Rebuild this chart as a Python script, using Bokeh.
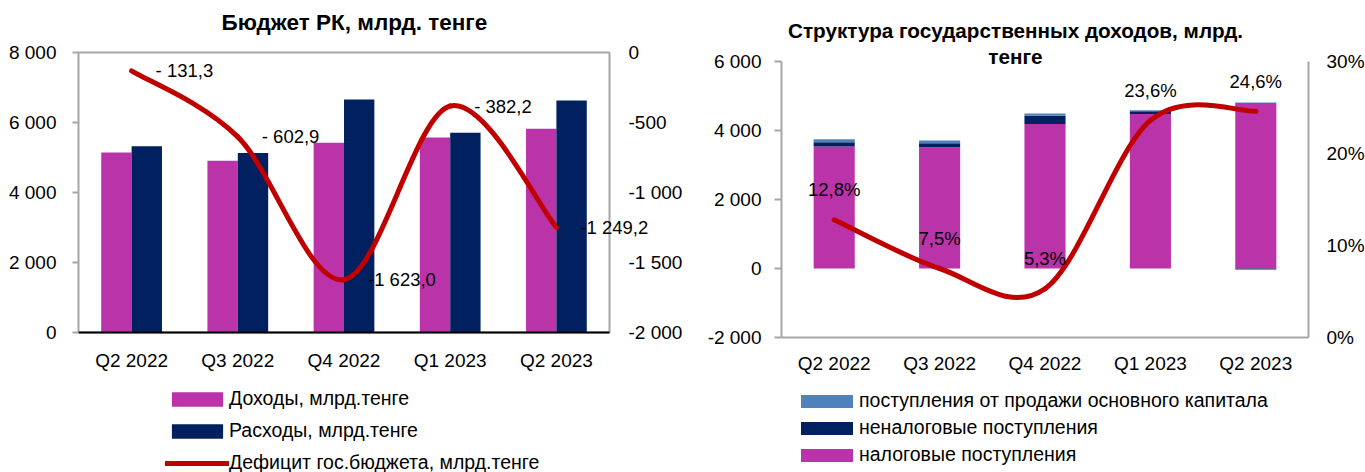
from bokeh.plotting import figure
from bokeh.models import (Range1d, LinearAxis, FixedTicker, Legend, LegendItem,
                          Label, LabelSet, Title, ColumnDataSource)
from bokeh.core.properties import value
from bokeh.layouts import row, column
from bokeh.embed import file_html
from bokeh.resources import INLINE

# ---------------- data ----------------
quarters = ["Q2 2022", "Q3 2022", "Q4 2022", "Q1 2023", "Q2 2023"]

income = [5143, 4910, 5420, 5571, 5825]
expenses = [5320, 5130, 6657, 5710, 6630]
deficit = [-131.3, -602.9, -1623.0, -382.2, -1249.2]
deficit_labels = ["- 131,3", "- 602,9", "-1 623,0", "- 382,2", "-1 249,2"]
left_ticks = [0, 2000, 4000, 6000, 8000]
left_tick_labels = ["0", "2 000", "4 000", "6 000", "8 000"]
def_ticks = [-2000, -1500, -1000, -500, 0]
def_tick_labels = ["-2 000", "-1 500", "-1 000", "-500", "0"]

tax = [3535, 3515, 4190, 4480, 4800]
nontax = [125, 115, 235, 75, -30]
capital = [85, 80, 70, 30, 12]
gdp_share = [12.8, 7.5, 5.3, 23.6, 24.6]
gdp_labels = ["12,8%", "7,5%", "5,3%", "23,6%", "24,6%"]
r_ticks = [-2000, 0, 2000, 4000, 6000]
r_tick_labels = ["-2 000", "0", "2 000", "4 000", "6 000"]
pct_ticks = [0, 10, 20, 30]
pct_tick_labels = ["0%", "10%", "20%", "30%"]

title_left = "Бюджет РК, млрд. тенге"
title_right = ["Структура государственных доходов, млрд.", "тенге"]
legend_left = ["Доходы, млрд.тенге", "Расходы, млрд.тенге",
               "Дефицит гос.бюджета, млрд.тенге"]
legend_right = ["поступления от продажи основного капитала",
                "неналоговые поступления", "налоговые поступления", "в % к ВВП"]

# ---------------- style ----------------
FONT = "Liberation Sans"
PINK = "#BA33A8"
NAVY = "#002060"
LBLUE = "#4F81BD"
RED = "#C00000"
GRAY = "#A6A6A6"
TICK_FS = "19px"
LEG_FS = "19.5px"
DLBL_FS = "18.5px"

idx = list(range(len(quarters)))


def no_frame_align(f):
    # keep each chart's own plot-area position inside the layout
    if "frame_align" in f.properties():
        f.frame_align = False
    return f


def smooth_segments(xs, ys):
    """Excel-like smoothed line: one cubic Bezier per pair of points."""
    n = len(xs)
    d = dict(x0=[], y0=[], x1=[], y1=[], cx0=[], cy0=[], cx1=[], cy1=[])
    for i in range(n - 1):
        a = max(i - 1, 0)
        b = min(i + 2, n - 1)
        d["x0"].append(xs[i]); d["y0"].append(ys[i])
        d["x1"].append(xs[i + 1]); d["y1"].append(ys[i + 1])
        d["cx0"].append(xs[i] + (xs[i + 1] - xs[a]) / 6)
        d["cy0"].append(ys[i] + (ys[i + 1] - ys[a]) / 6)
        d["cx1"].append(xs[i + 1] - (xs[b] - xs[i]) / 6)
        d["cy1"].append(ys[i + 1] - (ys[b] - ys[i]) / 6)
    return ColumnDataSource(d)


def style_axis(ax, ticks, labels):
    ax.ticker = FixedTicker(ticks=ticks)
    ax.major_label_overrides = {t: l for t, l in zip(ticks, labels)}
    ax.major_label_text_font = FONT
    ax.major_label_text_font_size = TICK_FS
    ax.major_label_text_color = "#000000"
    ax.minor_tick_line_color = None
    ax.minor_tick_out = 0
    ax.minor_tick_in = 0


def style_xaxis(ax, standoff, color):
    style_axis(ax, idx, quarters)
    ax.axis_line_color = color
    ax.axis_line_width = 2
    ax.major_tick_line_color = None
    ax.major_tick_out = 0
    ax.major_tick_in = 0
    ax.major_label_standoff = standoff


def legend_figure(frame_w, border_l, border_r, height):
    f = figure(frame_width=frame_w, frame_height=height,
               min_border_left=border_l, min_border_right=border_r,
               min_border_top=0, min_border_bottom=0,
               x_axis_location=None, y_axis_location=None,
               x_range=Range1d(100, 101), y_range=Range1d(100, 101),
               title_location=None,
               output_backend="svg", toolbar_location=None)
    f.grid.visible = False
    f.outline_line_color = None
    f.background_fill_color = "white"
    f.border_fill_color = "white"
    return no_frame_align(f)


def make_legend(items, loc, glyph_w, glyph_h, spacing):
    return Legend(items=items, location=loc, orientation="vertical",
                  glyph_width=glyph_w, glyph_height=glyph_h, label_height=22,
                  label_standoff=0, spacing=spacing,
                  padding=0, margin=0, border_line_color=None,
                  background_fill_alpha=0, inactive_fill_alpha=0,
                  label_text_font=FONT, label_text_font_size=LEG_FS,
                  label_text_color="#000000")


# ================= left chart =================
p1 = figure(frame_width=531, frame_height=280,
            min_border_left=78, min_border_right=81,
            min_border_top=52, min_border_bottom=43,
            x_range=Range1d(-0.5, 4.5), y_range=Range1d(0, 8000),
            title_location=None,
            output_backend="svg", toolbar_location=None)
no_frame_align(p1)
p1.extra_y_ranges = {"def": Range1d(-2000, 0)}
p1.xgrid.visible = False
p1.ygrid.visible = False
p1.outline_line_color = GRAY
p1.outline_line_width = 2
p1.background_fill_color = "white"
p1.border_fill_color = "white"

BW = 0.286
p1.vbar(x=[i - BW / 2 for i in idx], top=income, width=BW,
        fill_color=PINK, line_color=None)
p1.vbar(x=[i + BW / 2 for i in idx], top=expenses, width=BW,
        fill_color=NAVY, line_color=None)
p1.bezier(x0="x0", y0="y0", x1="x1", y1="y1", cx0="cx0", cy0="cy0",
          cx1="cx1", cy1="cy1", source=smooth_segments(idx, deficit),
          line_color=RED, line_width=5, line_cap="round",
          y_range_name="def")

# labels that stay inside the plot area
src_def = ColumnDataSource(dict(x=idx[:-1], y=deficit[:-1], t=deficit_labels[:-1]))
p1.add_layout(LabelSet(x="x", y="y", text="t", source=src_def,
                       y_range_name="def", x_offset=24,
                       text_align="left", text_baseline="middle",
                       text_font=value(FONT), text_font_size=value(DLBL_FS),
                       text_color="#000000"))

style_xaxis(p1.xaxis[0], 17, "#000000")

ay = p1.yaxis[0]
style_axis(ay, left_ticks, left_tick_labels)
ay.axis_line_color = None
ay.major_tick_out = 6
ay.major_tick_in = 0
ay.major_tick_line_color = GRAY
ay.major_tick_line_width = 2
ay.major_label_standoff = 16

ay2 = LinearAxis(y_range_name="def")
style_axis(ay2, def_ticks, def_tick_labels)
ay2.axis_line_color = None
ay2.major_tick_line_color = None
ay2.major_tick_out = 0
ay2.major_tick_in = 0
ay2.major_label_standoff = 19
p1.add_layout(ay2, "right")

# the last data label runs over the plot border: keep it outside the clip region
p1.add_layout(Label(x=idx[-1], y=deficit[-1], text=deficit_labels[-1],
                    y_range_name="def", x_offset=24,
                    text_align="left", text_baseline="middle",
                    text_font=FONT, text_font_size=DLBL_FS,
                    text_color="#000000"), "above")
p1.add_layout(Title(text=title_left, align="left", offset=143,
                    vertical_align="bottom", standoff=-7,
                    text_font=FONT, text_font_size="22.5px",
                    text_font_style="bold", text_color="#000000"), "above")

# ================= right chart =================
p2 = figure(frame_width=527, frame_height=276,
            min_border_left=91, min_border_right=57,
            min_border_top=61, min_border_bottom=38,
            x_range=Range1d(-0.5, 4.5), y_range=Range1d(-2000, 6000),
            title_location=None,
            output_backend="svg", toolbar_location=None)
no_frame_align(p2)
p2.extra_y_ranges = {"pct": Range1d(0, 30)}
p2.xgrid.visible = False
p2.ygrid.visible = False
p2.outline_line_color = None
p2.background_fill_color = "white"
p2.border_fill_color = "white"

# stacked bars: positives from zero upward, negatives from zero downward
pos_base = [0.0] * len(idx)
neg_base = [0.0] * len(idx)
for vals, col in ((tax, PINK), (nontax, NAVY), (capital, LBLUE)):
    bottoms, tops = [], []
    for i, v in enumerate(vals):
        if v >= 0:
            bottoms.append(pos_base[i]); tops.append(pos_base[i] + v)
            pos_base[i] += v
        else:
            bottoms.append(neg_base[i] + v); tops.append(neg_base[i])
            neg_base[i] += v
    p2.vbar(x=idx, bottom=bottoms, top=tops, width=0.39,
            fill_color=col, line_color=None)

p2.bezier(x0="x0", y0="y0", x1="x1", y1="y1", cx0="cx0", cy0="cy0",
          cx1="cx1", cy1="cy1", source=smooth_segments(idx, gdp_share),
          line_color=RED, line_width=5, line_cap="round",
          y_range_name="pct")

src_gdp = ColumnDataSource(dict(x=idx, y=gdp_share, t=gdp_labels))
p2.add_layout(LabelSet(x="x", y="y", text="t", source=src_gdp,
                       y_range_name="pct", y_offset=30,
                       text_align="center", text_baseline="middle",
                       text_font=value(FONT), text_font_size=value(DLBL_FS),
                       text_color="#000000"))

style_xaxis(p2.xaxis[0], 15, GRAY)

by = p2.yaxis[0]
style_axis(by, r_ticks, r_tick_labels)
by.axis_line_color = GRAY
by.axis_line_width = 2
by.major_tick_out = 7
by.major_tick_in = 0
by.major_tick_line_color = GRAY
by.major_tick_line_width = 2
by.major_label_standoff = 13

by2 = LinearAxis(y_range_name="pct")
style_axis(by2, pct_ticks, pct_tick_labels)
by2.axis_line_color = GRAY
by2.axis_line_width = 2
by2.major_tick_line_color = None
by2.major_tick_out = 0
by2.major_tick_in = 0
by2.major_label_standoff = 18
p2.add_layout(by2, "right")

p2.add_layout(Label(x=1.72, y=6899, text=title_right[0],
                    text_align="center", text_baseline="middle",
                    text_font=FONT, text_font_size="20.7px",
                    text_font_style="bold", text_color="#000000"), "above")
p2.add_layout(Label(x=1.72, y=6145, text=title_right[1],
                    text_align="center", text_baseline="middle",
                    text_font=FONT, text_font_size="20.7px",
                    text_font_style="bold", text_color="#000000"), "above")

# ================= legends (strips below the charts) =================
# legend swatches come from hidden copies of the series (nothing drawn in the strip)
l1 = legend_figure(531, 78, 81, 97)
g_inc = l1.vbar(x=idx, top=income, width=BW, fill_color=PINK, line_color=None, visible=False)
g_exp = l1.vbar(x=idx, top=expenses, width=BW, fill_color=NAVY, line_color=None, visible=False)
g_def = l1.line(x=idx, y=deficit, line_color=RED, line_width=5, line_cap="round", visible=False)
l1.add_layout(make_legend([LegendItem(label=t, renderers=[r]) for t, r in
                           zip(legend_left, [g_inc, g_exp, g_def])],
                          (87, -2), 64, 18, 9), "center")

l2 = legend_figure(527, 91, 57, 97)
g_cap = l2.vbar(x=idx, top=capital, width=0.39, fill_color=LBLUE, line_color=None, visible=False)
g_non = l2.vbar(x=idx, top=nontax, width=0.39, fill_color=NAVY, line_color=None, visible=False)
g_tax = l2.vbar(x=idx, top=tax, width=0.39, fill_color=PINK, line_color=None, visible=False)
g_gdp = l2.line(x=idx, y=gdp_share, line_color=RED, line_width=5, line_cap="round", visible=False)
l2.add_layout(make_legend([LegendItem(label=t, renderers=[r]) for t, r in
                           zip(legend_right, [g_cap, g_non, g_tax, g_gdp])],
                          (13, -20), 65, 16, 4), "center")

layout = row(column(p1, l1), column(p2, l2))
open("out.html", "w").write(file_html(layout, INLINE))
